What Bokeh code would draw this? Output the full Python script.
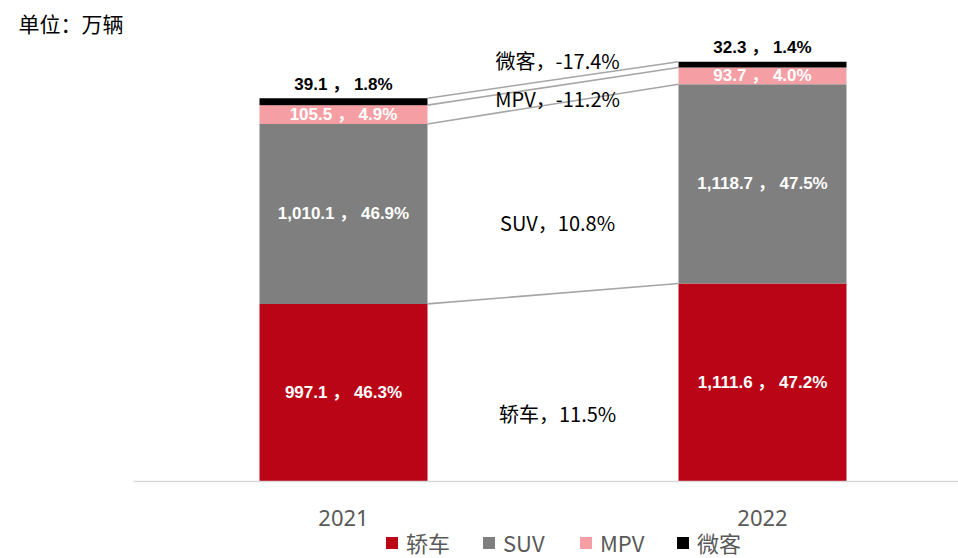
from bokeh.plotting import figure
from bokeh.models import Range1d, Label, Legend, LegendItem, ColumnDataSource
from bokeh.core.properties import value
from bokeh.embed import file_html
from bokeh.resources import INLINE

# ---------------- data ----------------
years = ["2021", "2022"]
segments = ["轿车", "SUV", "MPV", "微客"]
sedan = [997.1, 1111.6]
suv = [1010.1, 1118.7]
mpv = [105.5, 93.7]
micro = [39.1, 32.3]
unit_text = "单位：万辆"

# ---------------- style ----------------
colors = ["#BA0517", "#7F7F7F", "#F59FA4", "#000000"]
W, H = 958, 558
PX_PER_X = 419.0
PX_PER_Y = 0.17813
BASE_PX = 481          # baseline from top of canvas
X0_PX = 343            # centre of first bar from left of canvas
BAR_W = 168 / PX_PER_X

x_start = -X0_PX / PX_PER_X
x_end = x_start + W / PX_PER_X
y_end = BASE_PX / PX_PER_Y
y_start = -(H - BASE_PX) / PX_PER_Y

BOLD_FONT = "Liberation Sans, Noto Sans CJK SC"
LABEL_FONT = "Noto Sans CJK SC"
CJK = "Noto Sans CJK SC"

p = figure(width=W, height=H, output_backend="svg", toolbar_location=None,
           x_range=Range1d(x_start, x_end), y_range=Range1d(y_start, y_end),
           x_axis_location=None, y_axis_location=None, min_border=0)
p.grid.visible = False
p.outline_line_color = None
p.background_fill_color = "white"

xs = list(range(len(years)))
series = [sedan, suv, mpv, micro]
src = ColumnDataSource(dict(x=xs, s0=sedan, s1=suv, s2=mpv, s3=micro))
rends = p.vbar_stack(["s0", "s1", "s2", "s3"], x="x", width=BAR_W, color=colors,
                     line_color=None, source=src)

# baseline
p.segment(x0=[x_start + 133 / PX_PER_X], y0=[0], x1=[x_end], y1=[0],
          line_color="#D9D9D9", line_width=1.5)

# cumulative tops
tops = []
acc = [0.0] * len(years)
bottoms = []
for s in series:
    bottoms.append(list(acc))
    acc = [a + v for a, v in zip(acc, s)]
    tops.append(list(acc))
totals = acc

# connector lines between bars
for k in range(len(series)):
    p.segment(x0=[xs[0] + BAR_W / 2], y0=[tops[k][0]], x1=[xs[1] - BAR_W / 2], y1=[tops[k][1]],
              line_color="#A6A6A6", line_width=1.6)

# value labels
text_colors = ["white", "white", "white", "black"]
for k, s in enumerate(series):
    lx, ly, lt = [], [], []
    for i in range(len(years)):
        share = s[i] / totals[i] * 100
        lt.append(f"{s[i]:,.1f} ， {share:.1f}%")
        lx.append(xs[i])
        if k == len(series) - 1:
            ly.append(totals[i] + 14 / PX_PER_Y)
        else:
            ly.append((bottoms[k][i] + tops[k][i]) / 2)
    p.text(x=lx, y=ly, text=lt, text_align="center", text_baseline="middle",
           text_font=value(BOLD_FONT), text_font_size="17px", text_font_style="bold",
           text_color=text_colors[k])

# growth labels
growth_y_px = [413, 222, 98, 60]
gx, gy, gt = [], [], []
for k, s in enumerate(series):
    g = (s[1] / s[0] - 1) * 100
    gt.append(f"{segments[k]}，{g:.1f}%")
    gx.append(0.511)
    gy.append((BASE_PX - growth_y_px[k]) / PX_PER_Y)
p.text(x=gx, y=gy, text=gt, text_align="center", text_baseline="middle",
       text_font=value(LABEL_FONT), text_font_size="20px", text_color="#000000")

# category labels
p.text(x=xs, y=[-(517 - BASE_PX) / PX_PER_Y] * len(xs), text=years, text_align="center",
       text_baseline="middle", text_font=value("Noto Sans"), text_font_size="22px",
       text_color="#595959")

# unit label
p.add_layout(Label(x=18, y=H - 22, x_units="screen", y_units="screen", text=unit_text,
                   text_font=CJK, text_font_size="21px", text_baseline="middle",
                   text_color="#000000"))

legend = Legend(items=[LegendItem(label=segments[k], renderers=[rends[k]]) for k in range(4)],
                orientation="horizontal", location=(384, 0),
                glyph_width=15, glyph_height=15, label_standoff=7, spacing=24,
                label_width=51,
                padding=0, margin=0, border_line_color=None, background_fill_alpha=0,
                label_text_font=CJK, label_text_font_size="22px", label_text_color="#595959")
p.add_layout(legend, "center")

open("out.html", "w").write(file_html(p, INLINE))
